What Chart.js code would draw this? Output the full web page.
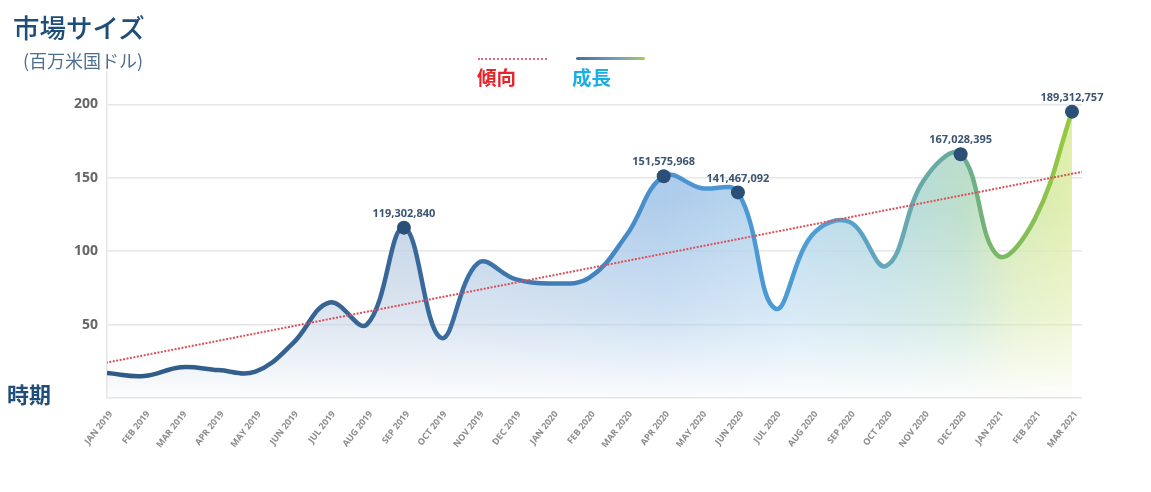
<!DOCTYPE html>
<html>
<head>
<meta charset="utf-8">
<script src="https://cdn.jsdelivr.net/npm/chart.js@4.4.1/dist/chart.umd.min.js"></script>
<style>
html, body { margin: 0; padding: 0; background: #fff; }
#wrap { position: relative; width: 1151px; height: 492px; overflow: hidden; }
#chart { position: absolute; left: 0; top: 0; }
.txt { position: absolute; font-family: "Noto Sans CJK JP", sans-serif; white-space: nowrap; line-height: 1; }
</style>
</head>
<body>
<div id="wrap">
  <canvas id="chart" width="1151" height="492"></canvas>
  <div class="txt" style="left:13px; top:14px; font-size:26.5px; font-weight:500; color:#1f4e79;">市場サイズ</div>
  <div class="txt" style="left:23px; top:51px; font-size:18px; color:#4f6f8f;">(百万米国ドル)</div>
  <div class="txt" style="left:7px; top:382px; font-size:22px; font-weight:700; color:#1f4e79;">時期</div>

  <div style="position:absolute; left:478px; top:58px; width:69px; height:0; border-top:2px dotted #dd6a7a;"></div>
  <div class="txt" style="left:477px; top:67px; font-size:19.5px; font-weight:700; color:#e4252b;">傾向</div>
  <div style="position:absolute; left:576px; top:57px; width:69px; height:3px; border-radius:2px; background:linear-gradient(to right,#4d6a93,#6b9bc8 55%,#a8cc55);"></div>
  <div class="txt" style="left:572px; top:67px; font-size:19.5px; font-weight:700; color:#1aaee5;">成長</div>
</div>
<script>
// data (millions of USD)
const months = ['JAN 2019', 'FEB 2019', 'MAR 2019', 'APR 2019', 'MAY 2019', 'JUN 2019', 'JUL 2019',
  'AUG 2019', 'SEP 2019', 'OCT 2019', 'NOV 2019', 'DEC 2019', 'JAN 2020', 'FEB 2020', 'MAR 2020',
  'APR 2020', 'MAY 2020', 'JUN 2020', 'JUL 2020', 'AUG 2020', 'SEP 2020', 'OCT 2020', 'NOV 2020',
  'DEC 2020', 'JAN 2021', 'FEB 2021', 'MAR 2021'];
const marketSize = [17, 15, 21, 19, 18, 37, 65, 50, 116, 41, 92, 81, 78, 82, 111,
  151, 143, 140, 61, 111, 120, 90, 148, 166, 97, 122, 195];
const peakIndex = [8, 15, 17, 23, 26];
const peakText = ['119,302,840', '151,575,968', '141,467,092', '167,028,395', '189,312,757'];
const trendX = [-0.03, 26.27];
const trendY = [24, 154];
const yTicks = [0, 50, 100, 150, 200];

const growthPoints = marketSize.map((v, i) => ({ x: i, y: v }));
const trendPoints = trendX.map((x, i) => ({ x: x, y: trendY[i] }));

function lineGradient(chart) {
  const a = chart.chartArea;
  if (!a) return '#3a6a9a';
  const g = chart.ctx.createLinearGradient(a.left, 0, a.right, 0);
  g.addColorStop(0, '#2f5a85');
  g.addColorStop(0.31, '#386799');
  g.addColorStop(0.5, '#4283bd');
  g.addColorStop(0.57, '#4a93d0');
  g.addColorStop(0.685, '#4a9ad6');
  g.addColorStop(0.76, '#55a0cc');
  g.addColorStop(0.8, '#66a8b8');
  g.addColorStop(0.876, '#68ab98');
  g.addColorStop(0.91, '#78b76a');
  g.addColorStop(1, '#9ccc38');
  return g;
}

let fillCache = null;
function areaFill(chart) {
  const a = chart.chartArea;
  if (!a) return 'rgba(0,0,0,0)';
  const key = [a.left, a.top, a.right, a.bottom].join(',');
  if (fillCache && fillCache.key === key) return fillCache.pattern;
  const off = document.createElement('canvas');
  off.width = chart.width;
  off.height = chart.height;
  const g = off.getContext('2d');
  const h = g.createLinearGradient(a.left, 0, a.right, 0);
  h.addColorStop(0, '#c3d2e3');
  h.addColorStop(0.31, '#bfd0e4');
  h.addColorStop(0.57, '#a9c9ea');
  h.addColorStop(0.7, '#b9d8ef');
  h.addColorStop(0.8, '#b3d9e0');
  h.addColorStop(0.88, '#b9ddc8');
  h.addColorStop(0.93, '#d3e8b0');
  h.addColorStop(1, '#e2efaa');
  g.fillStyle = h;
  g.fillRect(0, 0, off.width, off.height);
  g.globalCompositeOperation = 'destination-in';
  const v = g.createLinearGradient(0, a.top, 0, a.bottom);
  v.addColorStop(0, 'rgba(0,0,0,1)');
  v.addColorStop(0.4, 'rgba(0,0,0,0.95)');
  v.addColorStop(0.75, 'rgba(0,0,0,0.55)');
  v.addColorStop(1, 'rgba(0,0,0,0.05)');
  g.fillStyle = v;
  g.fillRect(0, 0, off.width, off.height);
  const pattern = chart.ctx.createPattern(off, 'no-repeat');
  fillCache = { key: key, pattern: pattern };
  return pattern;
}

const peakLabels = {
  id: 'peakLabels',
  afterDatasetsDraw(chart) {
    const meta = chart.getDatasetMeta(1);
    const ctx = chart.ctx;
    ctx.save();
    ctx.font = '700 11px "Open Sans"';
    ctx.fillStyle = '#3b5470';
    ctx.textAlign = 'center';
    ctx.textBaseline = 'middle';
    peakIndex.forEach((idx, k) => {
      const p = meta.data[idx];
      ctx.fillText(peakText[k], p.x, p.y - 14);
    });
    ctx.restore();
  }
};

new Chart(document.getElementById('chart'), {
  type: 'line',
  data: {
    datasets: [
      {
        label: '傾向',
        data: trendPoints,
        borderColor: '#d9505a',
        borderWidth: 2,
        borderDash: [2, 1.5],
        pointRadius: 0,
        fill: false,
        tension: 0
      },
      {
        label: '成長',
        data: growthPoints,
        borderColor: ctx => lineGradient(ctx.chart),
        backgroundColor: ctx => areaFill(ctx.chart),
        borderWidth: 4.5,
        fill: 'origin',
        tension: 0.4,
        pointRadius: ctx => peakIndex.includes(ctx.dataIndex) ? 7 : 0,
        pointBackgroundColor: '#2b4f77',
        pointBorderWidth: 0,
        pointHoverRadius: 0
      }
    ]
  },
  options: {
    responsive: false,
    animation: false,
    events: [],
    layout: { padding: { top: 72, right: 69, bottom: 0, left: 0 } },
    plugins: { legend: { display: false }, tooltip: { enabled: false } },
    scales: {
      x: {
        type: 'linear',
        min: 0,
        max: 26.27,
        afterBuildTicks: s => { s.ticks = months.map((m, i) => ({ value: i })); },
        afterFit: s => { s.height = 94; },
        grid: { display: false },
        border: { display: false },
        ticks: {
          autoSkip: false,
          maxRotation: 52,
          minRotation: 52,
          padding: 3,
          labelOffset: 4,
          color: '#8c8c8c',
          font: { family: 'Open Sans', size: 9, weight: '700' },
          callback: v => months[v]
        }
      },
      y: {
        min: 0,
        max: 222,
        afterBuildTicks: s => { s.ticks = yTicks.map(v => ({ value: v })); },
        afterFit: s => { s.width = 107; },
        grid: { color: '#e6e6e6', lineWidth: 1.5, drawTicks: false },
        border: { display: true, color: '#e6e6e6', width: 1.5 },
        ticks: {
          padding: 9,
          color: '#666666',
          font: { family: 'Open Sans', size: 14, weight: '700' },
          callback: v => v === 0 ? '' : v
        }
      }
    }
  },
  plugins: [peakLabels]
});
</script>
</body>
</html>
